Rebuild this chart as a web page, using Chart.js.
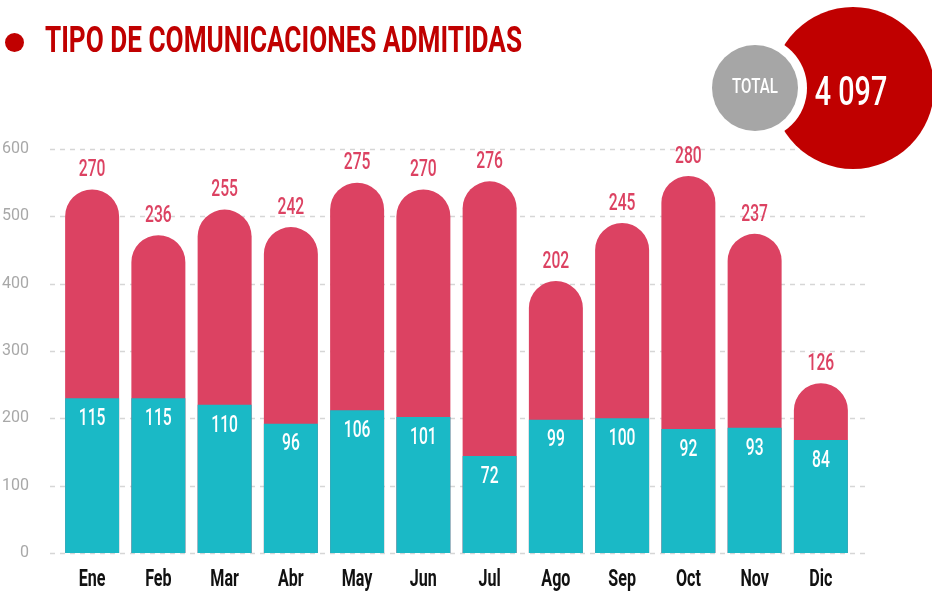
<!DOCTYPE html>
<html>
<head>
<meta charset="utf-8">
<script src="https://cdn.jsdelivr.net/npm/chart.js@4"></script>
<style>
  html, body { margin: 0; padding: 0; background: #fff; }
  #wrap { position: relative; width: 932px; height: 593px; }
</style>
</head>
<body>
<div id="wrap"><canvas id="chart" width="932" height="593"></canvas></div>
<script>
const months = ["Ene","Feb","Mar","Abr","May","Jun","Jul","Ago","Sep","Oct","Nov","Dic"];
const redValues = [270,236,255,242,275,270,276,202,245,280,237,126];
const tealValues = [115,115,110,96,106,101,72,99,100,92,93,84];
const yTickLabels = ["0","100","200","300","400","500","600"];
const totalText = "4 097";

const RED = "#dc4262";
const TEAL = "#1ab9c6";
const DARK_RED = "#c00000";
const FONT = "Roboto, 'Open Sans', sans-serif";

// draw text squeezed horizontally (condensed look)
function squeezedText(ctx, txt, x, y, font, color, sx, align) {
  ctx.save();
  ctx.font = font;
  ctx.fillStyle = color;
  ctx.textAlign = align || "center";
  ctx.textBaseline = "middle";
  ctx.translate(x, y);
  ctx.scale(sx, 1);
  ctx.fillText(txt, 0, 0);
  ctx.restore();
}

/* dashed grid lines that run wider than the chart area */
const gridPlugin = {
  id: "gridLines",
  beforeDatasetsDraw(chart) {
    const { ctx } = chart;
    const y = chart.scales.y;
    ctx.save();
    ctx.strokeStyle = "#d6d6d6";
    ctx.lineWidth = 1.5;
    ctx.setLineDash([5, 5]);
    y.ticks.forEach(t => {
      const py = Math.round(y.getPixelForValue(t.value)) + 0.5;
      ctx.beginPath();
      ctx.moveTo(50, py);
      ctx.lineTo(868, py);
      ctx.stroke();
    });
    ctx.restore();
  }
};

/* value labels, month labels, title and total badge */
const labelPlugin = {
  id: "labels",
  afterDatasetsDraw(chart) {
    const { ctx } = chart;
    const tealMeta = chart.getDatasetMeta(0);
    const redMeta = chart.getDatasetMeta(1);
    const bottom = chart.scales.y.getPixelForValue(0);

    redMeta.data.forEach((bar, i) => {
      squeezedText(ctx, String(redValues[i]), bar.x, bar.y - 19, "500 23px " + FONT, RED, 0.68);
    });
    tealMeta.data.forEach((bar, i) => {
      squeezedText(ctx, String(tealValues[i]), bar.x, bar.y + 21, "500 23px " + FONT, "#fff", 0.68);
      squeezedText(ctx, months[i], bar.x, bottom + 27, "bold 23px " + FONT, "#111", 0.7);
    });
  },
  afterDraw(chart) {
    const { ctx } = chart;
    // title dot
    ctx.save();
    ctx.fillStyle = DARK_RED;
    ctx.beginPath();
    ctx.arc(14.5, 42.5, 9.5, 0, Math.PI * 2);
    ctx.fill();
    ctx.restore();

    // title, fitted to its width
    const title = "TIPO DE COMUNICACIONES ADMITIDAS";
    ctx.save();
    ctx.font = "bold 36px " + FONT;
    const w = ctx.measureText(title).width;
    ctx.restore();
    squeezedText(ctx, title, 45, 43, "bold 36px " + FONT, DARK_RED, 477 / w, "left");

    // total badge
    ctx.save();
    ctx.fillStyle = DARK_RED;
    ctx.beginPath();
    ctx.arc(853, 88, 81, 0, Math.PI * 2);
    ctx.fill();
    ctx.fillStyle = "#fff";
    ctx.beginPath();
    ctx.arc(755, 88, 52, 0, Math.PI * 2);
    ctx.fill();
    ctx.fillStyle = "#a6a6a6";
    ctx.beginPath();
    ctx.arc(755, 88, 43, 0, Math.PI * 2);
    ctx.fill();
    ctx.restore();
    squeezedText(ctx, "TOTAL", 755, 88, "500 21px " + FONT, "#fff", 0.72);
    squeezedText(ctx, totalText, 851, 95, "500 41px " + FONT, "#fff", 0.7);
  }
};

new Chart(document.getElementById("chart"), {
  type: "bar",
  data: {
    labels: months,
    datasets: [
      {
        label: "teal",
        data: tealValues,
        backgroundColor: TEAL,
        borderRadius: 0
      },
      {
        label: "red",
        data: redValues,
        backgroundColor: RED,
        borderRadius: { topLeft: 27, topRight: 27, bottomLeft: 0, bottomRight: 0 },
        borderSkipped: "bottom"
      }
    ]
  },
  options: {
    responsive: false,
    animation: false,
    layout: { padding: { top: 149, right: 78, bottom: 40, left: 0 } },
    datasets: {
      bar: { grouped: false, categoryPercentage: 1, barPercentage: 0.815 }
    },
    plugins: {
      legend: { display: false },
      tooltip: { enabled: false }
    },
    scales: {
      x: { display: false },
      y: {
        min: 0,
        max: 300,
        afterFit(scale) { scale.width = 59; },
        border: { display: false },
        grid: { display: false, drawTicks: false },
        ticks: {
          stepSize: 50,
          padding: 30,
          color: "#a8a8a8",
          font: { family: "Roboto", size: 16 },
          callback: (v, i) => yTickLabels[i]
        }
      }
    }
  },
  plugins: [gridPlugin, labelPlugin]
});
</script>
</body>
</html>
